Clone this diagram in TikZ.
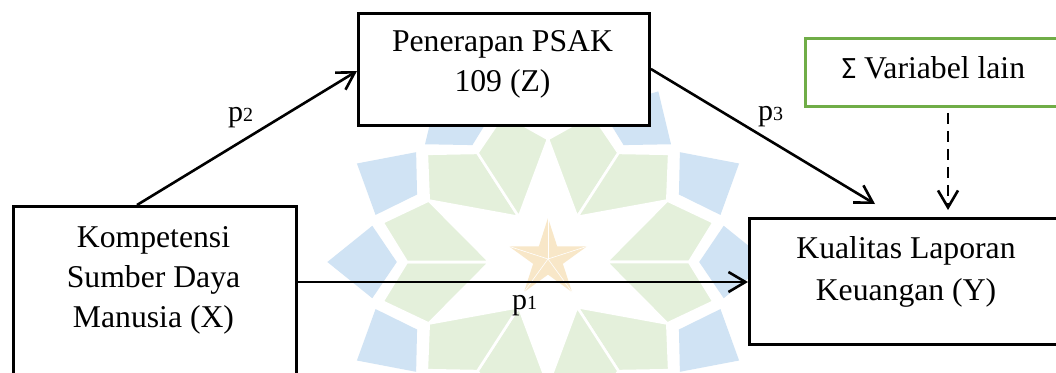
\documentclass[tikz,border=0pt]{standalone}
\usepackage{fontspec}
\setmainfont{Liberation Serif}
\newfontfamily\sigmafont{Carlito}
\usetikzlibrary{arrows.meta,calc}
\definecolor{wmblue}{RGB}{208,227,244}
\definecolor{wmgreen}{RGB}{228,240,219}
\definecolor{wmstar}{RGB}{248,231,200}
\definecolor{boxgreen}{RGB}{112,173,71}

\begin{document}
\begin{tikzpicture}[x=1pt,y=-1pt,
  box/.style={draw=black, line width=2.9pt, fill=white, rectangle, inner sep=0pt, anchor=north west},
  greenbox/.style={box, draw=boxgreen},
  txt/.style={font=\fontsize{31.7}{40}\selectfont, align=center, anchor=north, inner sep=0pt},
  lab/.style={font=\fontsize{30}{36}\selectfont, anchor=base west, inner sep=0pt},
  arr/.style={line width=2.6pt, -{Straight Barb[length=17pt,width=20pt]}},
  dasharr/.style={arr, dash pattern=on 11pt off 7pt},
  kite/.style={fill=wmgreen, draw=white, line width=2.6pt, line join=round},
]
\useasboundingbox (0,0) rectangle (1056,372);
\clip (0,0) rectangle (1056,372);
\fill[white] (0,0) rectangle (1056,372);

% faint emblem behind the diagram
\begin{scope}[shift={(548,262)}, x=1.12pt, y=1pt]
  \foreach \a in {0,30,...,330}
    \fill[wmblue] (\a:135) -- (\a-13:161) -- (\a:197) -- (\a+13:161) -- cycle;
  \foreach \a in {0,60,...,300} {
    \path[kite] (\a:52) -- (\a:126) -- (\a+15:153) -- (\a+30:123) -- cycle;
    \path[kite] (\a:52) -- (\a:126) -- (\a-15:153) -- (\a-30:123) -- cycle;
  }
\end{scope}
\begin{scope}[shift={(548,259)}, x=1pt, y=1pt]
  \fill[wmstar] (90:41) -- (126:15.6) -- (162:41) -- (198:15.6) -- (234:41)
    -- (270:15.6) -- (306:41) -- (342:15.6) -- (18:41) -- (54:15.6) -- cycle;
  \foreach \a in {18,90,162,234,306}
    \draw[white, line width=0.6pt] (0,0) -- (\a:41);
\end{scope}

% boxes
\node[box, minimum width=283pt, minimum height=200pt] (X) at (12,205) {};
\node[box, minimum width=291pt, minimum height=112pt] (Z) at (357,12) {};
\node[box, minimum width=316pt, minimum height=126pt] (Y) at (748,217) {};
\node[greenbox, minimum width=259pt, minimum height=68pt] (V) at (804,37) {};

% box texts
\node[txt] (Xt) at (153.5,226.5) {Kompetensi\\Sumber Daya\\Manusia (X)};
\node[txt] (Zt) at (502.5,30.5) {Penerapan PSAK\\109 (Z)};
\node[txt, font=\fontsize{31.7}{42}\selectfont] (Yt) at (906,236.5) {Kualitas Laporan\\Keuangan (Y)};
\node[inner sep=0pt, anchor=base, font=\fontsize{31.7}{40}\selectfont] (Vt) at (933.5,78)
  {{\sigmafont\fontsize{31}{40}\selectfont Σ} Variabel lain};

% paths
\coordinate (p1y) at (0,282);
\draw[arr] (X.east |- p1y) -- (Y.west |- p1y);
\draw[arr] ($(X.north west)+(125,0)$) -- ($(Z.north west)+(0,59)$);
\draw[arr] ($(Z.north east)+(0,57)$) -- ($(Y.north west)+(127,-13)$);
\draw[dasharr] ($(V.south west)+(144,5)$) -- ($(Y.north west)+(200,-7)$);

% path labels
\node[lab] (l1) at (512,309) {p{\fontsize{20}{20}\selectfont 1}};
\node[lab] (l2) at (228,121) {p{\fontsize{20}{20}\selectfont 2}};
\node[lab] (l3) at (758,120) {p{\fontsize{20}{20}\selectfont 3}};
\end{tikzpicture}
\end{document}
